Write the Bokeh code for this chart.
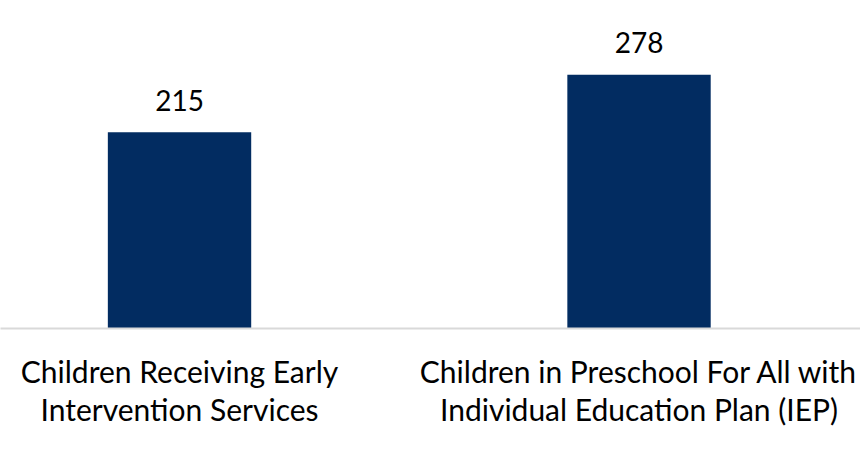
from bokeh.plotting import figure
from bokeh.models import ColumnDataSource, Range1d, FixedTicker
from bokeh.embed import file_html
from bokeh.resources import INLINE
from bokeh.core.properties import value

categories = ["Children Receiving Early\nIntervention Services",
              "Children in Preschool For All with\nIndividual Education Plan (IEP)"]
values = [215, 278]
positions = [0, 1]
value_labels = [str(v) for v in values]

src = ColumnDataSource(dict(x=positions, top=values, label=value_labels))

p = figure(frame_width=860, frame_height=328, output_backend="svg", toolbar_location=None,
           x_range=Range1d(-0.3896, -0.3896 + 860 / 459.5), y_range=Range1d(0, 359.5),
           min_border_left=0, min_border_right=0, min_border_top=0, min_border_bottom=115)
p.outline_line_color = None
p.background_fill_color = "white"
p.border_fill_color = "white"
p.grid.visible = False
p.yaxis.visible = False

p.vbar(x="x", top="top", width=0.312, bottom=0, source=src,
       fill_color="#022C61", line_color=None)
p.text(x="x", y="top", text="label", source=src, y_offset=-32,
       text_align="center", text_baseline="alphabetic",
       text_font=value("Lato"), text_font_size="28px", text_color="#000000")

ax = p.xaxis[0]
ax.ticker = FixedTicker(ticks=positions)
ax.major_label_overrides = {pos: cat for pos, cat in zip(positions, categories)}
ax.major_label_text_font = "Lato"
ax.major_label_text_font_size = "30px"
ax.major_label_text_color = "#000000"
ax.major_label_text_line_height = 1.08
ax.major_label_standoff = 18
ax.major_tick_line_color = None
ax.minor_tick_line_color = None
ax.axis_line_color = "#D9D9D9"
ax.axis_line_width = 2

open("out.html", "w").write(file_html(p, INLINE))
